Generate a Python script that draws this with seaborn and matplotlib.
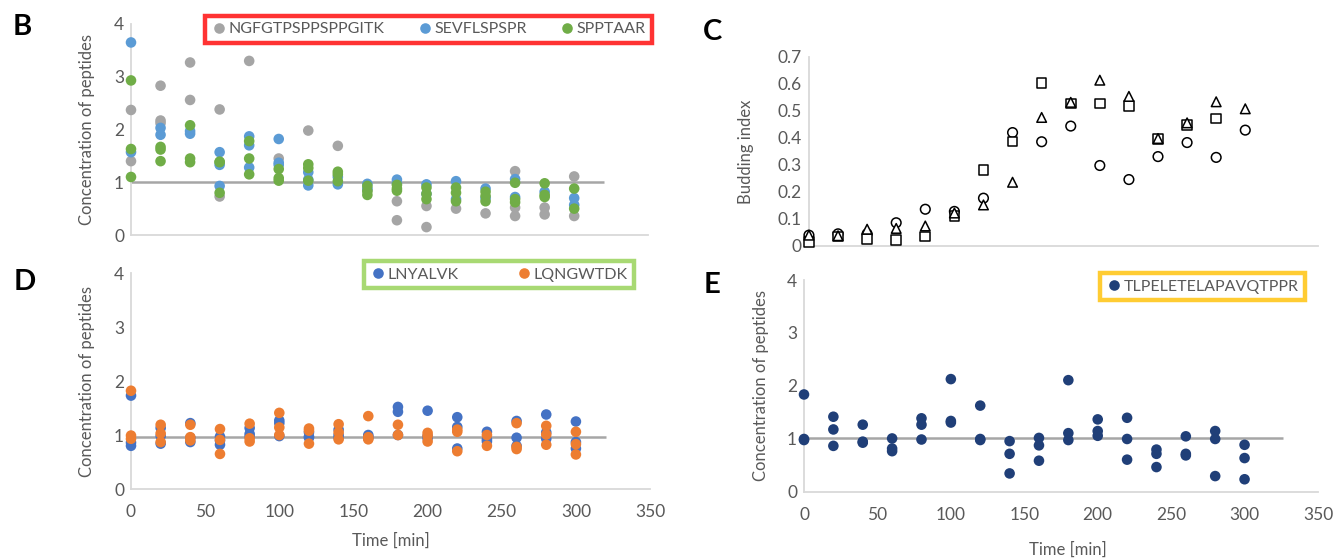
import matplotlib
matplotlib.use("Agg")
import matplotlib.pyplot as plt
import pandas as pd
import seaborn as sns

# ---------------- data ----------------
TIMES = [0, 20, 40, 60, 80, 100, 120, 140, 160, 180, 200, 220, 240, 260, 280, 300]

# Panel B (values per time point)
B_NGFG = [[2.37, 1.40], [2.83, 2.17, 2.12], [3.27, 2.56], [2.38, 0.73], [3.30], [1.45],
          [1.98], [1.69], [0.85], [0.64, 0.28], [0.55, 0.15], [0.50], [0.41],
          [1.21, 0.52, 0.36], [0.52, 0.39], [1.11, 0.36]]
B_SEVF = [[3.65, 1.57], [2.03, 1.90], [1.97, 1.92], [1.57, 1.33, 0.93], [1.87, 1.70, 1.28],
          [1.82, 1.37, 1.33], [1.19, 1.05, 0.94], [1.10, 0.96], [0.97, 0.88], [1.05, 0.98],
          [0.96, 0.78], [1.02, 0.68], [0.88, 0.70], [1.06, 0.72], [0.82], [0.70, 0.57]]
B_SPPT = [[2.93, 1.63, 1.10], [1.67, 1.62, 1.40], [2.08, 1.45, 1.38], [1.39, 1.38, 0.80],
          [1.78, 1.45, 1.15], [1.25, 1.08, 1.03], [1.34, 1.27, 1.03], [1.20, 1.15, 1.02],
          [0.93, 0.83, 0.76], [0.95, 0.88, 0.84], [0.90, 0.78, 0.68], [0.90, 0.80, 0.64],
          [0.82, 0.74, 0.64], [0.99, 0.68, 0.62], [0.98, 0.76, 0.72], [0.88, 0.50]]
B_NAMES = ["NGFGTPSPPSPPGITK", "SEVFLSPSPR", "SPPTAAR"]
B_COLORS = ["#a5a5a5", "#5b9bd5", "#70ad47"]

# Panel C (budding index)
C_CIRCLE = [0.040, 0.045, 0.045, 0.086, 0.136, 0.128, 0.177, 0.420, 0.386, 0.444,
            0.298, 0.246, 0.331, 0.383, 0.328, 0.429]
C_SQUARE = [0.015, 0.035, 0.025, 0.022, 0.035, 0.112, 0.281, 0.387, 0.604, 0.527,
            0.528, 0.519, 0.396, 0.448, 0.472]
C_TRIANGLE = [0.040, 0.038, 0.062, 0.065, 0.074, 0.122, 0.152, 0.236, 0.476, 0.532,
              0.614, 0.554, 0.398, 0.456, 0.534, 0.508]

# Panel D
D_LNYA = [[1.73, 0.86, 0.80], [1.13, 0.98, 0.84], [1.22, 0.95, 0.87], [0.97, 0.90, 0.82],
          [1.13, 1.02, 0.97], [1.27, 1.22, 0.98], [1.05, 0.97, 0.95], [1.10, 1.00, 0.95],
          [1.00, 0.97, 0.94], [1.52, 1.43, 1.00], [1.45, 0.98, 0.94], [1.33, 1.15, 0.75],
          [1.06, 0.92, 0.88], [1.26, 0.95, 0.80], [1.38, 1.05, 0.93], [1.25, 0.87, 0.75]]
D_LQNG = [[1.82, 0.99, 0.93], [1.19, 1.03, 0.87], [1.19, 0.96, 0.90], [1.11, 0.91, 0.65],
          [1.21, 0.94, 0.88], [1.41, 1.14, 1.00], [1.12, 1.08, 0.84], [1.20, 1.05, 0.92],
          [1.35, 0.96, 0.92], [1.19, 1.00], [1.04, 0.98, 0.88], [1.10, 1.06, 0.70],
          [1.00, 0.80], [1.22, 0.78, 0.74], [1.17, 1.01, 0.82], [1.06, 0.83, 0.64]]
D_NAMES = ["LNYALVK", "LQNGWTDK"]
D_COLORS = ["#4472c4", "#ed7d31"]

# Panel E
E_TLPE = [[1.84, 1.00, 0.98], [1.42, 1.18, 0.87], [1.27, 0.95, 0.93], [1.01, 0.82, 0.77],
          [1.39, 1.27, 0.99], [2.13, 1.34, 1.31], [1.63, 1.00, 0.98], [0.96, 0.72, 0.35],
          [1.02, 0.88, 0.59], [2.11, 1.11, 0.98], [1.37, 1.15, 1.06], [1.40, 1.00, 0.61],
          [0.80, 0.72, 0.47], [1.05, 0.72, 0.69], [1.15, 1.00, 0.30], [0.89, 0.64, 0.24]]
E_NAMES = ["TLPELETELAPAVQTPPR"]
E_COLORS = ["#203f78"]

REF_B, REF_D, REF_E = 1.0, 0.97, 1.02
REF_END_B, REF_END_D, REF_END_E = 320, 320, 326

# ---------------- helpers ----------------
def to_long(names, series):
    rows = []
    for name, per_t in zip(names, series):
        for t, vals in zip(TIMES, per_t):
            for v in vals:
                rows.append((t, v, name))
    return pd.DataFrame(rows, columns=["Time", "Value", "Peptide"])


sns.set_theme(style="white")
plt.rcParams["font.family"] = ["Lato", "DejaVu Sans"]

TXT = "#595959"
SPINE = "#d9d9d9"
REFC = "#a6a6a6"
TICK_FS = 12.5
LAB_FS = 12

fig = plt.figure(figsize=(13.34, 5.59), dpi=100)

axB = fig.add_axes([0.0982, 0.5796, 0.3876, 0.3775])
axD = fig.add_axes([0.0982, 0.1252, 0.3891, 0.3864])
axC = fig.add_axes([0.6064, 0.5600, 0.3816, 0.3381])
axE = fig.add_axes([0.6027, 0.1199, 0.3853, 0.3792])


def style_axes(ax, xlabels=True):
    sns.despine(ax=ax)
    for s in ("left", "bottom"):
        ax.spines[s].set_color(SPINE)
        ax.spines[s].set_linewidth(1.3)
    ax.tick_params(length=0, labelsize=TICK_FS, labelcolor=TXT, pad=5)
    ax.set_xlim(0, 350)
    if xlabels:
        ax.set_xticks(range(0, 351, 50))
        ax.tick_params(axis="x", pad=11)
        ax.set_xlabel("Time [min]", fontsize=LAB_FS, color=TXT)
    else:
        ax.set_xticks([])
        ax.set_xlabel("")


def conc_panel(ax, names, colors, series, ref, ref_end, leg_xy, colspace, edge, xlabels):
    df = to_long(names, series)
    ax.hlines(ref, 0, ref_end, color=REFC, linewidth=1.8, zorder=1)
    sns.scatterplot(data=df, x="Time", y="Value", hue="Peptide", hue_order=names,
                    palette=colors, s=58, linewidth=0, ax=ax, zorder=3, clip_on=False)
    ax.set_ylim(0, 4)
    ax.set_yticks([0, 1, 2, 3, 4])
    style_axes(ax, xlabels)
    ax.set_ylabel("Concentration of peptides", fontsize=LAB_FS, color=TXT)
    ax.yaxis.set_label_coords(-0.07, 0.5)
    sns.move_legend(ax, "center", bbox_to_anchor=leg_xy, ncol=len(names), title=None,
                    frameon=True, fancybox=False, fontsize=11.5, handletextpad=0.1,
                    columnspacing=colspace, borderpad=0.4, handlelength=1.0,
                    borderaxespad=0)
    leg = ax.get_legend()
    fr = leg.get_frame()
    fr.set_edgecolor(edge)
    fr.set_linewidth(3.2)
    fr.set_facecolor("white")
    for t in leg.get_texts():
        t.set_color(TXT)
    leg.set_zorder(5)


conc_panel(axB, B_NAMES, B_COLORS, [B_NGFG, B_SEVF, B_SPPT], REF_B, REF_END_B,
           (0.575, 0.976), 2.0, "#ff0000", False)
conc_panel(axD, D_NAMES, D_COLORS, [D_LNYA, D_LQNG], REF_D, REF_END_D,
           (0.709, 0.991), 3.6, "#92d050", True)
conc_panel(axE, E_NAMES, E_COLORS, [E_TLPE], REF_E, REF_END_E,
           (0.775, 0.969), 1.0, "#ffc000", True)
axD.xaxis.set_label_coords(0.50, -0.20)
axE.xaxis.set_label_coords(0.513, -0.235)
axE.yaxis.set_label_coords(-0.068, 0.5)

# Panel C
dfC = pd.concat([
    pd.DataFrame({"Time": TIMES[:len(C_CIRCLE)], "Value": C_CIRCLE, "Series": "circle"}),
    pd.DataFrame({"Time": TIMES[:len(C_SQUARE)], "Value": C_SQUARE, "Series": "square"}),
    pd.DataFrame({"Time": TIMES[:len(C_TRIANGLE)], "Value": C_TRIANGLE, "Series": "triangle"}),
])
sns.scatterplot(data=dfC, x="Time", y="Value", style="Series",
                markers={"circle": "o", "square": "s", "triangle": "^"},
                color="white", edgecolor="black", linewidth=1.1, s=48,
                ax=axC, legend=False, clip_on=False, zorder=3)
axC.set_ylim(0, 0.7)
yt = [0, 0.1, 0.2, 0.3, 0.4, 0.5, 0.6, 0.7]
axC.set_yticks(yt)
axC.set_yticklabels([f"{v:g}" for v in yt])
style_axes(axC, False)
axC.set_ylabel("Budding index", fontsize=LAB_FS, color=TXT)
axC.yaxis.set_label_coords(-0.108, 0.5)

# panel letters
for lbl, x, y in [("B", 0.0165, 0.952), ("C", 0.534, 0.943), ("D", 0.0187, 0.4955), ("E", 0.534, 0.49)]:
    fig.text(x, y, lbl, fontsize=21, fontweight="bold", color="black", ha="center", va="center")

fig.savefig("out.png", dpi=100)
